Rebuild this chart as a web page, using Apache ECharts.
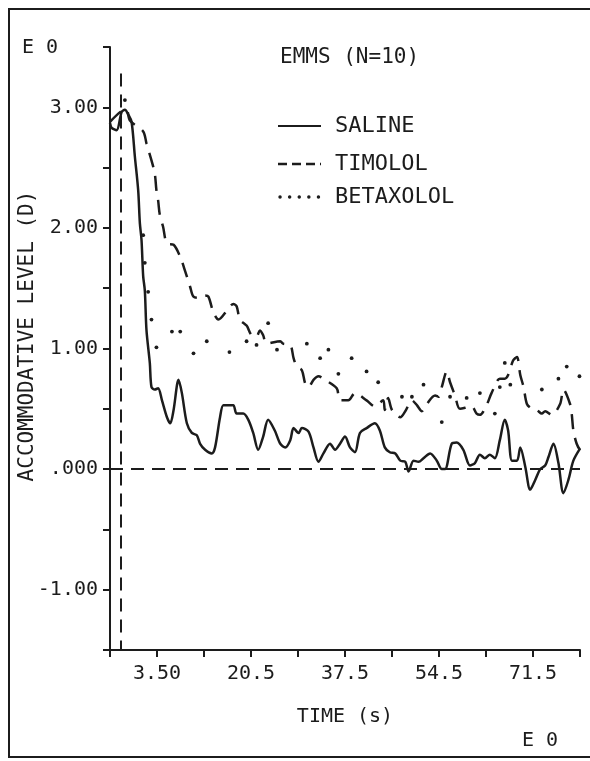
<!DOCTYPE html>
<html><head><meta charset="utf-8">
<script src="https://cdn.jsdelivr.net/npm/echarts@6/dist/echarts.min.js"></script>
<style>html,body{margin:0;padding:0;background:#fff}#c{width:590px;height:761px}</style>
</head><body><div id="c"></div><script>
// ---- data (time in s, accommodative level in D) ----
const salineTime = [-5.0,-4.7,-3.8,-2.9,-2.3,-1.7,-1.1,-0.5,0.1,0.4,0.7,1.0,1.3,1.6,2.2,2.5,3.1,3.7,4.4,5.3,5.9,6.5,7.4,8.0,8.9,9.8,10.7,11.3,12.2,13.4,14.0,14.9,15.5,16.4,17.3,17.9,19.1,20.0,20.9,21.8,22.7,23.6,24.8,25.8,26.7,27.6,28.2,29.1,29.7,30.9,31.8,32.7,33.6,34.8,35.7,36.6,37.5,38.4,39.3,40.2,41.4,42.9,43.8,44.7,45.6,46.6,47.5,48.4,49.0,49.9,50.8,51.7,52.9,54.1,55.0,55.6,56.8,57.7,58.9,60.1,61.0,61.9,62.8,63.7,64.6,65.5,66.4,67.0,67.7,68.6,69.2,70.1,71.0,71.9,72.8,73.7,74.3,75.2,76.1,77.0,77.9,78.8,80.0];
const salineLevel = [2.87,2.83,2.81,2.96,2.98,2.94,2.88,2.59,2.31,2.04,1.90,1.60,1.48,1.15,0.88,0.68,0.66,0.67,0.57,0.43,0.38,0.49,0.74,0.63,0.38,0.30,0.28,0.21,0.16,0.13,0.18,0.43,0.53,0.53,0.53,0.46,0.46,0.41,0.30,0.16,0.27,0.41,0.32,0.21,0.18,0.24,0.34,0.30,0.34,0.31,0.18,0.06,0.13,0.21,0.16,0.21,0.27,0.18,0.14,0.30,0.34,0.38,0.32,0.18,0.14,0.13,0.07,0.06,-0.02,0.07,0.06,0.09,0.13,0.07,0.00,0.00,0.21,0.22,0.16,0.03,0.05,0.12,0.09,0.12,0.09,0.24,0.41,0.32,0.07,0.07,0.18,0.02,-0.17,-0.09,0.00,0.03,0.10,0.21,0.05,-0.20,-0.09,0.07,0.17];

const timololTime = [-5.0,-2.9,-2.0,-1.4,1.0,1.6,2.5,3.1,3.4,3.7,4.0,4.6,5.3,6.5,7.7,8.6,9.5,10.1,11.3,12.2,12.8,13.7,14.6,16.4,17.3,17.9,18.5,19.7,20.6,21.5,22.1,22.7,23.3,25.8,26.3,27.6,28.2,28.8,29.7,30.3,30.9,31.8,32.7,33.9,36.0,36.6,38.1,39.3,41.4,42.9,44.4,44.7,45.3,46.0,47.5,48.4,49.6,50.5,51.4,52.3,53.8,54.4,55.0,55.9,56.5,57.4,58.3,60.4,61.3,61.9,63.1,64.0,65.5,66.4,67.0,67.9,68.6,69.2,69.8,70.4,71.3,72.2,73.1,73.7,74.9,76.4,77.0,78.2,78.5,78.8,79.4,80.0];
const timololLevel = [2.88,2.97,2.98,2.89,2.80,2.70,2.56,2.45,2.31,2.23,2.11,2.01,1.87,1.86,1.76,1.64,1.51,1.43,1.42,1.44,1.43,1.30,1.24,1.33,1.37,1.35,1.24,1.19,1.11,1.10,1.15,1.11,1.04,1.06,1.04,1.03,0.92,0.85,0.82,0.71,0.68,0.74,0.77,0.74,0.67,0.57,0.57,0.63,0.57,0.52,0.57,0.49,0.59,0.49,0.43,0.48,0.57,0.53,0.48,0.54,0.61,0.60,0.68,0.81,0.72,0.61,0.50,0.52,0.46,0.45,0.53,0.63,0.75,0.75,0.78,0.90,0.93,0.78,0.68,0.54,0.50,0.49,0.46,0.48,0.45,0.54,0.66,0.54,0.46,0.32,0.21,0.16];

const betaxololTime = [-2.3,1.0,1.3,1.9,2.5,3.4,6.2,7.7,10.1,12.5,16.6,19.7,21.5,23.6,25.2,30.6,33.0,34.5,36.3,38.7,41.4,43.5,47.8,49.6,51.7,55.0,56.5,59.5,61.9,64.6,65.5,66.4,67.4,73.1,76.1,77.6,79.9];
const betaxololLevel = [3.06,1.94,1.71,1.47,1.24,1.01,1.14,1.14,0.96,1.06,0.97,1.06,1.03,1.21,0.99,1.04,0.92,0.99,0.79,0.92,0.81,0.72,0.60,0.60,0.70,0.39,0.60,0.59,0.63,0.46,0.68,0.88,0.70,0.66,0.75,0.85,0.77];

const seriesNames = ['SALINE','TIMOLOL','BETAXOLOL'];
const xTickValues = [3.5,20.5,37.5,54.5,71.5];
const xTickLabels = ['3.50','20.5','37.5','54.5','71.5'];
const yTickValues = [3,2,1,0,-1];
const yTickLabels = ['3.00','2.00','1.00','.000','-1.00'];
const stimulusTime = -3;      // vertical dashed reference line
const stimulusTop = 3.28;

const INK = '#1c1c1c';
const FONT = '"DejaVu Sans Mono", "Liberation Mono", monospace';
const pairs = (t, v) => t.map((x, i) => [x, v[i]]);

const chart = echarts.init(document.getElementById('c'), null, {renderer: 'canvas'});
chart.setOption({
  animation: false,
  backgroundColor: '#ffffff',
  grid: {left: 110, top: 47, width: 470, height: 603, outerBoundsMode: 'none', containLabel: false},
  xAxis: {
    type: 'value', min: -5, max: 80, interval: 8.5,
    axisLine: {show: true, onZero: false, lineStyle: {color: INK, width: 2}},
    axisTick: {show: true, inside: false, length: 7, lineStyle: {color: INK, width: 2}},
    splitLine: {show: false},
    axisLabel: {
      show: true, margin: 14, color: INK, fontFamily: FONT, fontSize: 20,
      formatter: v => { const i = xTickValues.findIndex(a => Math.abs(a - v) < 1e-6); return i >= 0 ? xTickLabels[i] : ''; }
    },
    name: 'TIME (s)', nameLocation: 'middle', nameGap: 57,
    nameTextStyle: {color: INK, fontFamily: FONT, fontSize: 20}
  },
  yAxis: {
    type: 'value', min: -1.5, max: 3.5, interval: 0.5,
    axisLine: {show: true, onZero: false, lineStyle: {color: INK, width: 2}},
    axisTick: {show: true, inside: false, length: 7, lineStyle: {color: INK, width: 2}},
    splitLine: {show: false},
    axisLabel: {
      show: true, margin: 12, color: INK, fontFamily: FONT, fontSize: 20,
      formatter: v => { const i = yTickValues.findIndex(a => Math.abs(a - v) < 1e-6); return i >= 0 ? yTickLabels[i] : ''; }
    }
  },
  series: [
    {
      name: seriesNames[0], type: 'line', data: pairs(salineTime, salineLevel),
      symbol: 'none', smooth: 0.3, lineStyle: {color: INK, width: 2.5},
      markLine: {
        silent: true, symbol: 'none', label: {show: false},
        lineStyle: {color: INK, width: 2, type: [13, 8]},
        data: [
          {yAxis: 0},
          [{coord: [stimulusTime, stimulusTop]}, {coord: [stimulusTime, -1.5]}]
        ]
      }
    },
    {
      name: seriesNames[1], type: 'line', data: pairs(timololTime, timololLevel),
      symbol: 'none', smooth: 0.3, lineStyle: {color: INK, width: 2.5, type: [15, 9]}
    },
    {
      name: seriesNames[2], type: 'line', data: pairs(betaxololTime, betaxololLevel),
      showSymbol: true, showAllSymbol: true, symbol: 'circle', symbolSize: 3.8,
      itemStyle: {color: INK}, lineStyle: {width: 0, opacity: 0}
    }
  ],
  graphic: [
    {type: 'polyline', shape: {points: [[600, 9], [9, 9], [9, 757], [600, 757]]}, style: {stroke: INK, lineWidth: 2, fill: null}, silent: true},
    {type: 'text', x: 22, y: 48, style: {text: 'E 0', font: '20px ' + FONT, fill: INK, textAlign: 'left', textVerticalAlign: 'middle'}},
    {type: 'text', x: 558, y: 741, style: {text: 'E 0', font: '20px ' + FONT, fill: INK, textAlign: 'right', textVerticalAlign: 'middle'}},
    {type: 'text', x: 280, y: 58, style: {text: 'EMMS (N=10)', font: '21px ' + FONT, fill: INK, textAlign: 'left', textVerticalAlign: 'middle'}},
    {type: 'text', x: 28, y: 336, rotation: Math.PI / 2, style: {text: 'ACCOMMODATIVE LEVEL (D)', font: '21px ' + FONT, fill: INK, textAlign: 'center', textVerticalAlign: 'middle'}},
    {type: 'line', shape: {x1: 278, y1: 126, x2: 321, y2: 126}, style: {stroke: INK, lineWidth: 2.2}},
    {type: 'line', shape: {x1: 278, y1: 164, x2: 321, y2: 164}, style: {stroke: INK, lineWidth: 2.4, lineDash: [9, 5]}},
    {type: 'line', shape: {x1: 280, y1: 197, x2: 321, y2: 197}, style: {stroke: INK, lineWidth: 3.4, lineDash: [0.1, 9.5], lineCap: 'round'}},
    {type: 'text', x: 335, y: 126, style: {text: seriesNames[0], font: '22px ' + FONT, fill: INK, textAlign: 'left', textVerticalAlign: 'middle'}},
    {type: 'text', x: 335, y: 164, style: {text: seriesNames[1], font: '22px ' + FONT, fill: INK, textAlign: 'left', textVerticalAlign: 'middle'}},
    {type: 'text', x: 335, y: 197, style: {text: seriesNames[2], font: '22px ' + FONT, fill: INK, textAlign: 'left', textVerticalAlign: 'middle'}}
  ]
});
</script></body></html>
